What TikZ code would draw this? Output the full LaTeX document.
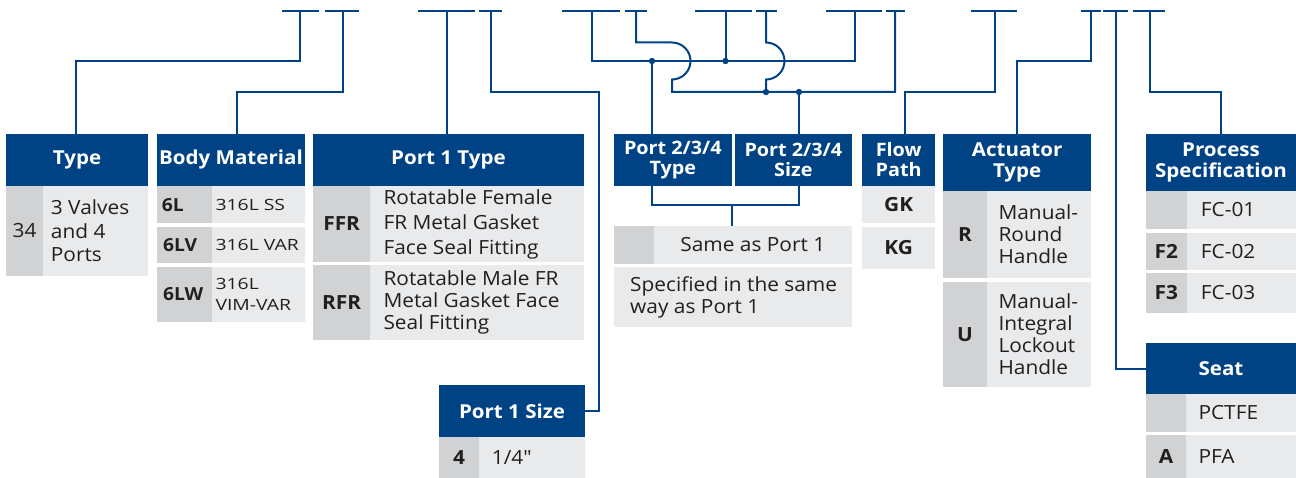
\documentclass[tikz,border=0pt]{standalone}
\usepackage{fontspec}
\setmainfont{Open Sans}[FakeStretch=1.07]
\newfontfamily\widefont{Open Sans}[FakeStretch=1.25]
\newfontfamily\qfont{Open Sans}[FakeStretch=1.07]
\definecolor{hblue}{RGB}{0,67,133}
\definecolor{cgray}{RGB}{209,210,212}
\definecolor{tgray}{RGB}{233,234,236}
\definecolor{ink}{RGB}{35,31,32}
\begin{document}
\begin{tikzpicture}[x=1pt,y=-1pt,
  conn/.style={draw=hblue,line width=2pt},
  hdr/.style={fill=hblue,text=white,font=\bfseries\fontsize{19.2}{21.5}\selectfont,align=center,inner sep=0pt,outer sep=0pt,anchor=north west},
  hdrsm/.style={hdr,font=\bfseries\fontsize{18.5}{20}\selectfont},
  cbox/.style={fill=cgray,text=ink,font=\bfseries\fontsize{19.5}{22}\selectfont,inner sep=0pt,outer sep=0pt,anchor=north west},
  tbox/.style={fill=tgray,text=ink,font=\fontsize{19.5}{23.5}\selectfont,inner sep=0pt,outer sep=0pt,anchor=north west},
  btxt/.style={text=ink,font=\fontsize{19.5}{23.5}\selectfont,inner sep=0pt,align=left,anchor=west},
  btxtw/.style={btxt,font=\widefont\fontsize{15.5}{21}\selectfont},
  bmcode/.style={text=ink,font=\bfseries\fontsize{18}{21}\selectfont,inner sep=0pt,anchor=west},
  jdot/.style={fill=hblue}
]
\useasboundingbox (0,0) rectangle (1296,478);

% ---------- Type ----------
\node[hdr,minimum width=142pt,minimum height=52pt] (typeh) at (6,134) {Type};
\node[cbox,minimum width=37pt,minimum height=90pt,font=\fontsize{19.5}{23.5}\selectfont] (typec) at (6,186) {34};
\node[tbox,minimum width=105pt,minimum height=90pt] (typet) at (43,186) {};
\node[btxt] (typetx) at (50.7,231) {3 Valves\\and 4\\Ports};

% ---------- Body Material ----------
\node[hdr,minimum width=148pt,minimum height=52pt] (bmh) at (157,134) {Body Material};
\node[cbox,minimum width=55pt,minimum height=37.3pt] (bm1c) at (157,186) {};
\node[tbox,minimum width=93pt,minimum height=37.3pt] (bm1t) at (212,186) {};
\node[cbox,minimum width=55pt,minimum height=36.6pt] (bm2c) at (157,226.7) {};
\node[tbox,minimum width=93pt,minimum height=36.6pt] (bm2t) at (212,226.7) {};
\node[cbox,minimum width=55pt,minimum height=55pt] (bm3c) at (157,266.7) {};
\node[tbox,minimum width=93pt,minimum height=55pt] (bm3t) at (212,266.7) {};
\node[bmcode] (bm1cx) at (161.7,204.6) {6L};
\node[bmcode] (bm2cx) at (163,245) {6LV};
\node[bmcode] (bm3cx) at (163,294.2) {6LW};
\node[btxtw] (bm1tx) at (215.3,204.6) {316L SS};
\node[btxtw] (bm2tx) at (215.3,245) {316L VAR};
\node[btxtw] (bm3tx) at (215.3,294.2) {316L\\VIM-VAR};

% ---------- Port 1 Type ----------
\node[hdr,minimum width=270.4pt,minimum height=52pt] (p1h) at (313.3,134) {Port 1 Type};
\node[cbox,minimum width=56.7pt,minimum height=76pt] (p1r1c) at (313.3,186) {FFR};
\node[tbox,minimum width=213.7pt,minimum height=76pt] (p1r1t) at (370,186) {};
\node[btxt,font=\fontsize{19.5}{25}\selectfont] (p1r1tx) at (383.3,224) {Rotatable Female\\FR Metal Gasket\\Face Seal Fitting};
\node[cbox,minimum width=56.7pt,minimum height=75pt] (p1r2c) at (313.3,265) {RFR};
\node[tbox,minimum width=213.7pt,minimum height=75pt] (p1r2t) at (370,265) {};
\node[btxt,font=\fontsize{19.5}{22}\selectfont] (p1r2tx) at (383.3,302.5) {Rotatable Male FR\\Metal Gasket Face\\Seal Fitting};

% ---------- Port 1 Size ----------
\node[hdr,minimum width=146pt,minimum height=52pt] (p1sh) at (439,385) {Port 1 Size};
\node[cbox,minimum width=40pt,minimum height=41pt] (p1sc) at (439,437) {4};
\node[tbox,minimum width=106pt,minimum height=41pt] (p1st) at (479,437) {};
\node[btxt] (p1stx) at (491.7,457.5) {\qfont 1/4\char34};

% ---------- Port 2/3/4 ----------
\node[hdrsm,minimum width=117.7pt,minimum height=52pt] (p2th) at (614,134) {Port 2/3/4\\Type};
\node[hdrsm,minimum width=116.7pt,minimum height=52pt] (p2sh) at (735,134) {Port 2/3/4\\Size};
\node[cbox,minimum width=40pt,minimum height=38pt] (p2r1c) at (614,226) {};
\node[tbox,minimum width=197.7pt,minimum height=38pt] (p2r1t) at (654,226) {Same as Port 1};
\node[tbox,minimum width=237.7pt,minimum height=60pt] (p2r2t) at (614,267.3) {};
\node[btxt,font=\fontsize{19.5}{21.7}\selectfont] (p2r2tx) at (630,297.3) {Specified in the same\\way as Port 1};

% ---------- Flow Path ----------
\node[hdrsm,minimum width=72.7pt,minimum height=52pt] (fph) at (862.3,134) {Flow\\Path};
\node[tbox,minimum width=72.7pt,minimum height=36.7pt,font=\bfseries\fontsize{19.5}{22}\selectfont] (fp1) at (862.3,186) {GK};
\node[tbox,minimum width=72.7pt,minimum height=42.6pt,font=\bfseries\fontsize{19.5}{22}\selectfont] (fp2) at (862.3,226.7) {KG};

% ---------- Actuator Type ----------
\node[hdr,minimum width=147.7pt,minimum height=56.7pt] (ath) at (943.3,134) {Actuator\\Type};
\node[cbox,minimum width=43.4pt,minimum height=87pt] (at1c) at (943.3,190.7) {R};
\node[tbox,minimum width=104.3pt,minimum height=87pt] (at1t) at (986.7,190.7) {};
\node[btxt,font=\fontsize{19.5}{22}\selectfont] (at1tx) at (998.3,234.2) {Manual-\\Round\\Handle};
\node[cbox,minimum width=43.4pt,minimum height=105pt] (at2c) at (943.3,281.7) {U};
\node[tbox,minimum width=104.3pt,minimum height=105pt] (at2t) at (986.7,281.7) {};
\node[btxt,font=\fontsize{19.5}{22}\selectfont] (at2tx) at (998.3,334.2) {Manual-\\Integral\\Lockout\\Handle};

% ---------- Process Specification ----------
\node[hdr,minimum width=150pt,minimum height=56.7pt] (psh) at (1146,134) {Process\\Specification};
\node[cbox,minimum width=40.7pt,minimum height=38.6pt] (ps1c) at (1146,190.7) {};
\node[tbox,minimum width=109.3pt,minimum height=38.6pt] (ps1t) at (1186.7,190.7) {};
\node[btxt] (ps1tx) at (1200.7,210) {FC-01};
\node[cbox,minimum width=40.7pt,minimum height=37.3pt] (ps2c) at (1146,232.7) {F2};
\node[tbox,minimum width=109.3pt,minimum height=37.3pt] (ps2t) at (1186.7,232.7) {};
\node[btxt] (ps2tx) at (1200.7,251.3) {FC-02};
\node[cbox,minimum width=40.7pt,minimum height=39.4pt] (ps3c) at (1146,273.3) {F3};
\node[tbox,minimum width=109.3pt,minimum height=39.4pt] (ps3t) at (1186.7,273.3) {};
\node[btxt] (ps3tx) at (1200.7,293) {FC-03};

% ---------- Seat ----------
\node[hdr,minimum width=150pt,minimum height=51pt] (sh) at (1146,343.3) {Seat};
\node[cbox,minimum width=40pt,minimum height=37.4pt] (s1c) at (1146,394.3) {};
\node[tbox,minimum width=110pt,minimum height=37.4pt] (s1t) at (1186,394.3) {};
\node[btxt] (s1tx) at (1198.3,413) {PCTFE};
\node[cbox,minimum width=40pt,minimum height=43pt] (s2c) at (1146,435) {A};
\node[tbox,minimum width=110pt,minimum height=43pt] (s2t) at (1186,435) {};
\node[btxt] (s2tx) at (1198.3,456.5) {PFA};

% ---------- top bars ----------
\foreach \a/\b in {282/319,325/359,418/475,479/502,562/620,625/647,695/752,755.5/777,826/881.5,886/905,971/1017,1080.7/1100.7,1103.3/1128.3,1132.7/1165}
  \draw[conn] (\a,11) -- (\b,11);
\coordinate (b1) at (300,11);
\coordinate (b2) at (342.5,11);
\coordinate (b3) at (446.5,11);
\coordinate (b4) at (490.5,11);
\coordinate (b5) at (592,11);
\coordinate (b6) at (636,11);
\coordinate (b7) at (725.5,11);
\coordinate (b8) at (766,11);
\coordinate (b9) at (855,11);
\coordinate (b10) at (895,11);
\coordinate (b11) at (995,11);
\coordinate (b12) at (1090.7,11);
\coordinate (b13) at (1116,11);
\coordinate (b14) at (1150,11);

% ---------- connectors ----------
\draw[conn] (b1) |- (76,61) -- (76,61 |- typeh.north);
\draw[conn] (b2) |- (237,92) -- (237,92 |- bmh.north);
\draw[conn] (b3) -- (b3 |- p1h.north);
\draw[conn] (b4) |- (599,92) |- (p1sh.east);
\draw[conn] (b5) |- (855,61) -- (b9);
\draw[conn] (b6) |- (672,42.5) .. controls (682.2,42.5) and (690.5,50.8) .. (690.5,61)
  .. controls (690.5,71.2) and (682.2,79.5) .. (672,79.5) -- (672,92) -| (b10);
\draw[conn] (b7) -- (725.5,61);
\draw[conn] (b8) -- (766,42.5) .. controls (776.2,42.5) and (784.5,50.8) .. (784.5,61)
  .. controls (784.5,71.2) and (776.2,79.5) .. (766,79.5) -- (766,92);
\draw[conn] (652,61) -- (652,61 |- p2th.north);
\draw[conn] (799,92) -- (799,92 |- p2sh.north);
\foreach \p in {(652,61),(725.5,61),(766,92),(799,92)}
  \fill[jdot] \p circle[radius=3.2pt];
\draw[conn] (652,0 |- p2th.south) -- (652,205) -- (799,205) -- (799,0 |- p2sh.south);
\draw[conn] (732,205) -- (732,0 |- p2r1c.north);
\draw[conn] (b11) |- (904.5,92) -- (904.5,92 |- fph.north);
\draw[conn] (b12) |- (1017,61) -- (1017,61 |- ath.north);
\draw[conn] (b13) |- (sh.west);
\draw[conn] (b14) |- (1221,92) -- (psh.north);
\end{tikzpicture}
\end{document}
